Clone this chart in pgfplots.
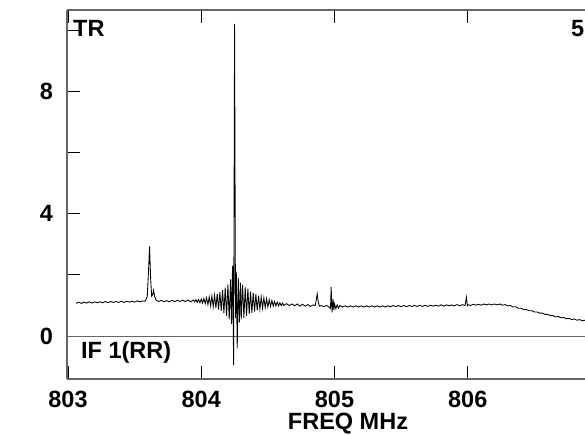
\documentclass[border=0pt]{standalone}
\usepackage{pgfplots}
\pgfplotsset{compat=1.18}
\usepackage{fontspec}
\setmainfont{Liberation Sans}
\begin{document}
\fontsize{23.5}{28}\selectfont\bfseries
\begin{tikzpicture}
\useasboundingbox (0,0) rectangle (585pt,434pt);
\clip (0,0) rectangle (585pt,434pt);
\begin{axis}[
  at={(67pt,55pt)}, anchor=south west,
  scale only axis, width=518pt, height=369pt,
  xmin=802.9925, xmax=806.88, ymin=-1.4, ymax=10.65,
  axis x line=box, axis y line=left,
  axis line style={gray!80!black, line width=1.1pt, -},
  tick align=inside,
  major tick length=13pt,
  major tick style={black, line width=0.8pt},
  xtick={803,804,805,806}, xticklabels={803,804,805,806},
  ytick={0,2,4,6,8,10}, yticklabels={0,,4,,8,},
  xticklabel style={anchor=base, yshift=-28pt},
  yticklabel style={anchor=east, xshift=-6pt},
  /pgf/number format/assume math mode=true,
  clip=true,
]
\addplot[gray!80!black, line width=1.2pt, no marks] coordinates {(802.9925,0) (806.88,0)};
\addplot[black, line width=0.85pt, no marks] table {
x y
803.06 1.07
803.08 1.11
803.10 1.07
803.12 1.11
803.14 1.08
803.16 1.12
803.18 1.08
803.20 1.12
803.22 1.09
803.24 1.12
803.26 1.09
803.28 1.13
803.30 1.09
803.32 1.13
803.34 1.10
803.36 1.13
803.38 1.10
803.40 1.14
803.42 1.10
803.44 1.14
803.46 1.11
803.48 1.14
803.50 1.11
803.52 1.15
803.54 1.12
803.56 1.15
803.58 1.14
803.595 1.3
803.605 2.2
803.612 2.93
803.62 1.9
803.628 1.3
803.635 1.35
803.642 1.5
803.65 1.3
803.66 1.18
803.67 1.15
803.68 1.13
803.70 1.17
803.72 1.12
803.74 1.16
803.76 1.12
803.78 1.17
803.80 1.13
803.82 1.17
803.84 1.13
803.86 1.18
803.88 1.13
803.90 1.18
803.92 1.12
803.94 1.18
803.95 1.12
803.96 1.19
803.97 1.10
803.98 1.20
803.99 1.09
804.00 1.21
804.01 1.08
804.02 1.23
804.03 1.06
804.04 1.25
804.05 1.03
804.06 1.28
804.07 0.99
804.08 1.31
804.09 0.96
804.10 1.34
804.11 0.92
804.12 1.39
804.13 0.87
804.14 1.44
804.15 0.82
804.16 1.50
804.17 0.75
804.18 1.58
804.19 0.66
804.20 1.68
804.21 0.55
804.22 1.85
804.227 0.4
804.235 2.3
804.243 -0.95
804.25 10.2
804.257 0.6
804.263 2.1
804.27 -0.4
804.278 1.9
804.286 0.45
804.294 1.75
804.30 0.55
804.31 1.68
804.32 0.6
804.33 1.6
804.34 0.66
804.35 1.55
804.36 0.72
804.37 1.45
804.38 0.76
804.39 1.42
804.40 0.8
804.41 1.37
804.42 0.84
804.43 1.32
804.44 0.88
804.45 1.28
804.46 0.91
804.47 1.25
804.48 0.93
804.49 1.22
804.50 0.95
804.51 1.19
804.52 0.97
804.53 1.16
804.54 0.98
804.55 1.13
804.56 0.99
804.57 1.11
804.58 0.99
804.59 1.09
804.60 1.0
804.61 1.08
804.62 1.0
804.64 1.06
804.66 1.0
804.68 1.05
804.70 0.99
804.72 1.05
804.74 0.98
804.76 1.04
804.78 0.98
804.80 1.03
804.82 0.97
804.84 1.02
804.855 1.0
804.862 1.15
804.87 1.38
804.878 1.12
804.886 0.98
804.90 1.0
804.92 0.96
804.94 1.0
804.96 0.95
804.97 0.9
804.975 1.6
804.982 0.78
804.99 1.2
804.995 0.85
805.00 1.05
805.01 0.9
805.02 1.02
805.03 0.92
805.04 1.0
805.06 0.95
805.08 0.99
805.10 0.95
805.12 0.99
805.14 0.95
805.16 0.99
805.18 0.95
805.20 0.99
805.22 0.95
805.24 0.99
805.26 0.95
805.28 0.99
805.30 0.95
805.32 0.99
805.34 0.95
805.36 0.99
805.38 0.95
805.40 0.99
805.42 0.96
805.44 1.0
805.46 0.96
805.48 1.0
805.50 0.96
805.52 1.0
805.54 0.96
805.56 1.0
805.58 0.97
805.60 1.0
805.62 0.97
805.64 1.01
805.66 0.97
805.68 1.01
805.70 0.97
805.72 1.01
805.74 0.98
805.76 1.01
805.78 0.98
805.80 1.02
805.82 0.98
805.84 1.02
805.86 0.99
805.88 1.02
805.90 0.99
805.92 1.03
805.94 0.99
805.96 1.03
805.98 1.0
805.99 1.27
805.997 1.0
806.00 1.03
806.02 1.0
806.04 1.04
806.06 1.01
806.08 1.04
806.10 1.01
806.12 1.05
806.14 1.02
806.16 1.05
806.18 1.02
806.20 1.05
806.22 1.02
806.24 1.05
806.26 1.01
806.28 1.03
806.30 0.99
806.32 1.0
806.34 0.95
806.36 0.96
806.38 0.91
806.40 0.91
806.42 0.87
806.44 0.87
806.46 0.83
806.48 0.83
806.50 0.79
806.52 0.79
806.54 0.75
806.56 0.75
806.58 0.71
806.60 0.71
806.62 0.67
806.64 0.67
806.66 0.63
806.68 0.64
806.70 0.6
806.72 0.61
806.74 0.57
806.76 0.58
806.78 0.54
806.80 0.56
806.82 0.52
806.84 0.54
806.86 0.5
806.88 0.52
806.90 0.49
};
\end{axis}
\node[anchor=base west, inner sep=0pt] at (73pt,397pt) {TR};
\node[anchor=base west, inner sep=0pt] at (571pt,397pt) {5};
\node[anchor=base west, inner sep=0pt] at (81pt,76pt) {IF 1(RR)};
\node[anchor=base, inner sep=0pt] at (348pt,5pt) {FREQ MHz};
\end{tikzpicture}
\end{document}
